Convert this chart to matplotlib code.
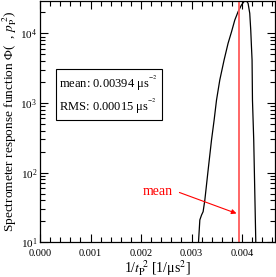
import numpy as np
import matplotlib.pyplot as plt
from matplotlib.ticker import MultipleLocator, LogLocator, NullFormatter

plt.rcParams['font.family'] = ['Liberation Serif', 'DejaVu Serif']
plt.rcParams['mathtext.fontset'] = 'stix'

# response curve
inv_t2 = [0.003135, 0.003138, 0.003144, 0.003164, 0.003198, 0.003229, 0.003263,
          0.003328, 0.003395, 0.003447, 0.003494, 0.003559, 0.003644,
          0.003723, 0.003791, 0.003856, 0.003921, 0.003988, 0.004053, 0.004073,
          0.004119, 0.004152, 0.004172, 0.004186, 0.004198, 0.004206,
          0.004231, 0.004251, 0.004271, 0.004275]
phi = [1, 10.2, 12.1, 21, 24.7, 27.6, 40.5,
       109, 294, 570, 1100, 2140, 4140,
       7190, 10500, 15500, 20400, 25500, 29400, 30100,
       27000, 19400, 11100, 6430, 4140, 1100,
       294, 56.5, 10.8, 1]

mean_val = 0.00394
rms_val = 0.00015

fig = plt.figure(figsize=(2.76, 2.77), dpi=100)
ax = fig.add_axes([0.145, 0.125, 0.851, 0.871])

ax.plot(inv_t2, phi, color='black', lw=0.9)
ax.axvline(mean_val, color='#ff5a5a', lw=1.3)

ax.set_yscale('log')
ax.set_xlim(0, 0.00465)
ax.set_ylim(10, 2.9e4)

ax.xaxis.set_major_locator(MultipleLocator(0.001))
ax.xaxis.set_minor_locator(MultipleLocator(0.0002))
ax.xaxis.set_major_formatter(plt.FuncFormatter(lambda v, p: f'{v:.3f}'))
ax.yaxis.set_major_locator(LogLocator(base=10))
ax.yaxis.set_minor_locator(LogLocator(base=10, subs=np.arange(2, 10)))
ax.yaxis.set_minor_formatter(NullFormatter())

ax.tick_params(which='both', direction='in', top=True, right=True, width=0.8)
ax.tick_params(axis='x', labelsize=7.5, pad=5)
ax.tick_params(axis='y', labelsize=8, pad=2)
ax.tick_params(which='major', length=6)
ax.tick_params(which='minor', length=3.5)
for s in ax.spines.values():
    s.set_linewidth(0.9)

fig.canvas.draw()
ax.get_xticklabels()[0].set_ha('left')

ax.set_xlabel('1/$t_{\\rm P}^{\\ 2}$ [1/\u03bcs$^2$]', fontsize=10, labelpad=0)
ax.set_ylabel('Spectrometer response function \u03a6(  , $p_{\\rm P}^{\\ 2}$)',
              fontsize=9.6, labelpad=1)

ax.text(0.082, 0.613,
        'mean: %.5f \u03bcs$^{^{-2}}$\nRMS: %.5f \u03bcs$^{^{-2}}$' % (mean_val, rms_val),
        transform=ax.transAxes, fontsize=9, va='center', ha='left',
        linespacing=1.25,
        bbox=dict(boxstyle='square,pad=0.3', fc='white', ec='black', lw=0.8))

ax.text(0.00234, 53, 'mean', color='red', fontsize=10, va='center', ha='center')
ax.annotate('', xy=(0.00389, 26), xytext=(0.00276, 52),
            arrowprops=dict(arrowstyle='-|>', color='red', lw=0.8,
                            mutation_scale=7, shrinkA=0, shrinkB=0))

fig.savefig('out.png', dpi=100)
